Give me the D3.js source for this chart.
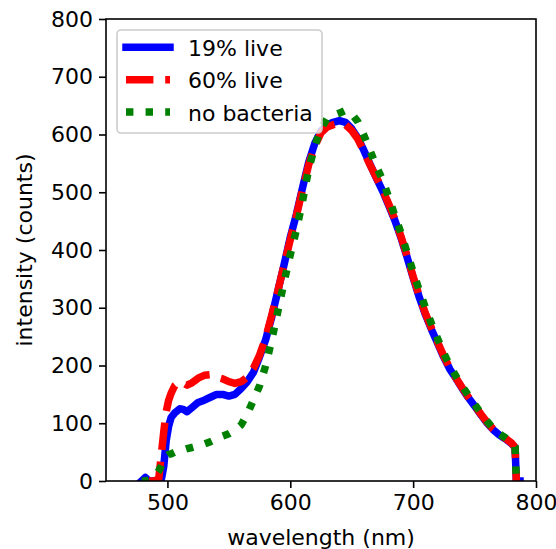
<!DOCTYPE html>
<html>
<head>
<meta charset="utf-8">
<script src="https://cdn.jsdelivr.net/npm/d3@7"></script>
<style>
  body { margin: 0; background: #fff; }
  text { font-family: "DejaVu Sans", sans-serif; }
</style>
</head>
<body>
<div id="plot"></div>
<script>
// wavelength grid (nm) shared by the three spectra
const wavelengths = [476, 479, 482, 485, 490, 493, 495, 497, 499, 501, 503, 506, 510, 513, 516, 520,
  525, 530, 535, 540, 545, 550, 555, 560, 565, 570, 575, 580, 585, 590, 595, 600, 605, 610, 615, 620,
  625, 630, 635, 640, 645, 650, 655, 660, 665, 670, 675, 680, 685, 690, 695, 700, 705, 710, 715, 720,
  725, 730, 735, 740, 745, 750, 755, 760, 765, 770, 775, 780, 783, 784, 787];

// intensity (counts), null where the series has no sample
const live19 = [null, 0, 6, 0, 0, 0, 2, 25, 70, 95, 110, 118, 125, 124, 120, 127,
  136, 140, 145, 150, 150, 147, 150, 160, 172, 188, 215, 245, 285, 330, 375, 422, 462, 508, 552, 585,
  606, 617, 621, 624, 621, 610, 594, 572, 548, 525, 503, 478, 452, 422, 388, 352, 318, 288, 262, 238,
  214, 193, 177, 160, 144, 130, 115, 101, 89, 80, 73, 65, 58, 0, 0];

const live60 = [null, null, null, 0, 0, 5, 45, 85, 120, 140, 152, 165, 172, 170, 166, 170,
  178, 183, 184, 180, 177, 172, 169, 172, 180, 195, 218, 248, 288, 330, 375, 418, 460, 505, 548, 580,
  603, 613, 617, 620, 617, 607, 592, 570, 547, 526, 505, 480, 454, 424, 390, 354, 320, 290, 264, 240,
  216, 195, 178, 161, 145, 131, 116, 102, 90, 81, 74, 66, 58, 0, null];

const noBacteria = [null, 0, 0, 2, 9, 18, 26, 36, 43, 46, 47, 50, 52, 54, 56, 58,
  61, 64, 68, 73, 78, 82, 88, 97, 116, 140, 165, 200, 245, 295, 345, 392, 435, 485, 540, 580,
  610, 628, 633, 637, 642, 636, 622, 598, 572, 545, 522, 492, 460, 430, 396, 362, 330, 300, 272, 246,
  221, 199, 181, 164, 148, 133, 118, 104, 91, 82, 75, 67, 59, 0, null];

const seriesNames = ["19% live", "60% live", "no bacteria"];
const xTicks = [500, 600, 700, 800];
const yTicks = [0, 100, 200, 300, 400, 500, 600, 700, 800];

const series = [
  { name: seriesNames[0], values: live19, color: "#0000ff", dash: null, cap: "square" },
  { name: seriesNames[1], values: live60, color: "#ff0000", dash: "27.4,11.8", cap: "butt" },
  { name: seriesNames[2], values: noBacteria, color: "#008000", dash: "7.4,12.2", cap: "butt" }
];

const W = 556, H = 549;
const margin = { top: 19, right: 20, bottom: 68, left: 106 };
const width = W - margin.left - margin.right;
const height = H - margin.top - margin.bottom;
const lw = 7.5;

const svg = d3.select("#plot").append("svg")
  .attr("width", W)
  .attr("height", H);

const g = svg.append("g")
  .attr("transform", "translate(" + margin.left + "," + margin.top + ")");

const x = d3.scaleLinear().domain([450, 800]).range([0, width]);
const y = d3.scaleLinear().domain([0, 800]).range([height, 0]);

g.append("clipPath").attr("id", "clip")
  .append("rect").attr("width", width).attr("height", height);

// spectra
const line = d3.line()
  .defined(d => d[1] !== null)
  .x(d => x(d[0]))
  .y(d => y(d[1]));

series.forEach(s => {
  const pts = wavelengths.map((w, i) => [w, s.values[i]]);
  g.append("path")
    .datum(pts)
    .attr("clip-path", "url(#clip)")
    .attr("fill", "none")
    .attr("stroke", s.color)
    .attr("stroke-width", lw)
    .attr("stroke-linejoin", "round")
    .attr("stroke-linecap", s.cap)
    .attr("stroke-dasharray", s.dash)
    .attr("d", line);
});

// axes
const xAxis = g.append("g")
  .attr("transform", "translate(0," + height + ")")
  .call(d3.axisBottom(x).tickValues(xTicks).tickSize(7).tickPadding(6).tickFormat(d3.format("d")));

const yAxis = g.append("g")
  .call(d3.axisLeft(y).tickValues(yTicks).tickSize(7).tickPadding(6).tickFormat(d3.format("d")));

[xAxis, yAxis].forEach(a => {
  a.select(".domain").remove();
  a.selectAll("line").attr("stroke", "#000").attr("stroke-width", 1.6);
  a.selectAll("text").attr("fill", "#000").style("font-size", "22px");
});

// frame
g.append("rect")
  .attr("width", width)
  .attr("height", height)
  .attr("fill", "none")
  .attr("stroke", "#000")
  .attr("stroke-width", 1.6);

// axis labels
svg.append("text")
  .attr("x", margin.left + width / 2)
  .attr("y", 545)
  .attr("text-anchor", "middle")
  .style("font-size", "22px")
  .text("wavelength (nm)");

svg.append("text")
  .attr("transform", "translate(32," + (margin.top + height / 2) + ") rotate(-90)")
  .attr("text-anchor", "middle")
  .style("font-size", "22px")
  .text("intensity (counts)");

// legend
const legend = svg.append("g");
legend.append("rect")
  .attr("x", 117).attr("y", 30)
  .attr("width", 205).attr("height", 103)
  .attr("rx", 4)
  .attr("fill", "#fff").attr("fill-opacity", 0.8)
  .attr("stroke", "#cccccc").attr("stroke-width", 1.6);

series.forEach((s, i) => {
  const cy = 47.3 + i * 32.4;
  legend.append("line")
    .attr("x1", 126).attr("x2", 170)
    .attr("y1", cy).attr("y2", cy)
    .attr("stroke", s.color)
    .attr("stroke-width", lw)
    .attr("stroke-linecap", s.cap)
    .attr("stroke-dasharray", s.dash);
  legend.append("text")
    .attr("x", 188)
    .attr("y", cy + 8.5)
    .style("font-size", "22px")
    .text(s.name);
});
</script>
</body>
</html>
